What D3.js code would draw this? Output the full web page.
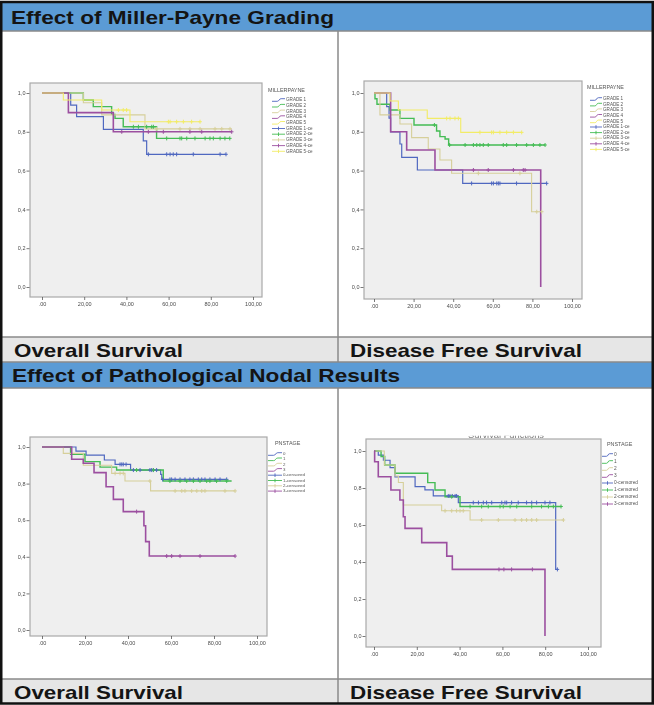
<!DOCTYPE html>
<html><head><meta charset="utf-8">
<script src="https://cdn.jsdelivr.net/npm/d3@7"></script>
<style>
html,body{margin:0;padding:0;background:#fff;}
svg{display:block;font-family:"Liberation Sans",Arial,sans-serif;}
</style>
</head><body>
<svg id="fig" width="654" height="705"></svg>
<script>
// ---------- axis ticks ----------
const xTickValues = [0, 20, 40, 60, 80, 100];
const xTickLabels = [".00", "20,00", "40,00", "60,00", "80,00", "100,00"];
const yTickValues = [0, 0.2, 0.4, 0.6, 0.8, 1.0];
const yTickLabels = ["0,0", "0,2", "0,4", "0,6", "0,8", "1,0"];

// ---------- legend entries ----------
const millerLegendTitle = "MILLERPAYNE";
const millerLegendLabels = ["GRADE 1", "GRADE 2", "GRADE 3", "GRADE 4", "GRADE 5",
  "GRADE 1-ce", "GRADE 2-ce", "GRADE 3-ce", "GRADE 4-ce", "GRADE 5-ce"];
const nodalLegendTitle = "PNSTAGE";
const nodalLegendLabels = ["0", "1", "2", "3", "0-censored", "1-censored", "2-censored", "3-censored"];

// ---------- section / panel titles ----------
const sectionTitles = ["Effect of Miller-Payne Grading", "Effect of Pathological Nodal Results"];
const panelTitles = ["Overall Survival", "Disease Free Survival"];
const hiddenChartTitle = "Survival Functions";

// ---------- Miller-Payne, overall survival: [months, cumulative survival] step starts ----------
const mpOsGrade1 = [[0,1],[13.6,0.938],[16.4,0.878],[29.1,0.813],[48,0.753],[49.6,0.684],[87.2,0.684]];
const mpOsGrade1Cens = [50.4,59.1,60.7,62.2,63.8,71.7,84.4,87.2];
const mpOsGrade2 = [[0,1],[19.6,0.964],[24.3,0.93],[33,0.89],[34.6,0.869],[38.5,0.826],[54.3,0.766],[89,0.766]];
const mpOsGrade2Cens = [43.3,45.7,49.6,52,52.8,59.1,65.4,66.2,68.6,72.5,77.3,79.6,81.2,84.4,86.7,89];
const mpOsGrade3 = [[0,1],[19.6,0.95],[28.3,0.887],[48.8,0.815],[89.9,0.815]];
const mpOsGrade3Cens = [54.3,65.4,70.1,74.9,82,85.2,89.1];
const mpOsGrade4 = [[0,1],[12.5,0.899],[33.8,0.8],[89.9,0.8]];
const mpOsGrade4Cens = [37.8,50.4,57.5,70.1,75.7,89.9];
const mpOsGrade5 = [[0,1],[10.1,0.964],[28.3,0.912],[41.7,0.852],[74.9,0.852]];
const mpOsGrade5Cens = [36.2,38.5,40.1,59.9,60.7,63.8,67,70.9,74.9];

// ---------- Miller-Payne, disease free survival ----------
const mpDfsGrade1 = [[0,1],[6.4,0.93],[7.6,0.87],[8.4,0.8],[13.1,0.737],[14,0.668],[21.9,0.603],[44.8,0.534],[87.2,0.534]];
const mpDfsGrade1Cens = [49.3,59.4,60.3,62,62.8,63.6,72,87.2];
const mpDfsGrade2 = [[0,1],[0.5,0.97],[1.5,0.942],[8.1,0.912],[13.1,0.869],[20.2,0.835],[31.6,0.804],[33.3,0.775],[35.9,0.763],[37.7,0.732],[86.4,0.732]];
const mpDfsGrade2Cens = [30.5,38.2,46,50.2,51.9,53.5,55.2,57.7,65.3,67,72,77.1,80.5,83.8,86.4];
const mpDfsGrade3 = [[0,1],[3,0.887],[13.1,0.84],[19,0.77],[27.4,0.711],[33.3,0.655],[39.2,0.586],[79.6,0.388],[84.7,0.388]];
const mpDfsGrade3Cens = [52.7,73.7,82.2,84.7];
const mpDfsGrade4 = [[0,1],[8.4,0.8],[16.5,0.706],[30.8,0.603],[84.2,0]];
const mpDfsGrade4Cens = [50.2,57.7,70.4,75.4,76.3];
const mpDfsGrade5 = [[0,1],[8.1,0.959],[12.3,0.912],[26.9,0.869],[43.8,0.797],[74.6,0.797]];
const mpDfsGrade5Cens = [36.7,38.4,40.9,42.6,53.5,59.4,60.3,63.6,67,70.4,74.6];

// ---------- Nodal stage, overall survival ----------
const pnOsStage0 = [[0,1],[15.8,0.978],[20.5,0.956],[29,0.929],[34,0.905],[41.2,0.874],[55.2,0.85],[55.7,0.823],[85.9,0.823]];
const pnOsStage0Cens = [36.3,37.1,37.8,39.1,42.5,45.6,50.2,51,51.8,53.3,56.1,59.5,60.3,61.9,64.2,66.5,68.8,70.4,72.7,74.3,75.8,78.1,80.5,82.8,85.9];
const pnOsStage1 = [[0,1],[13.3,0.96],[20,0.92],[27,0.89],[34.7,0.874],[56.4,0.814],[88.2,0.814]];
const pnOsStage1Cens = [44,51.8,59.5,64.2,67.3,70.4,73.5,76.6,78.1,81.2,85.9];
const pnOsStage2 = [[0,1],[9.9,0.965],[19.2,0.9],[32.4,0.856],[38.6,0.814],[50.5,0.76],[89.8,0.76]];
const pnOsStage2Cens = [34,36.3,37.8,50.2,61.9,65,66.5,69.6,72,74.3,75.8,85.1,89.8];
const pnOsStage3 = [[0,1],[13.8,0.933],[19.2,0.911],[24.2,0.86],[29.8,0.783],[33.2,0.714],[37.8,0.647],[47.4,0.57],[48.2,0.483],[49.9,0.404],[89.8,0.404]];
const pnOsStage3Cens = [44,58,60.3,64.2,73.5,89.8];

// ---------- Nodal stage, disease free survival ----------
const pnDfsStage0 = [[0,1],[2,0.978],[4.4,0.95],[7.5,0.91],[9.8,0.86],[19.2,0.807],[23.8,0.79],[27.7,0.757],[39.4,0.721],[84.9,0.36],[85.7,0.36]];
const pnDfsStage0Cens = [34.7,35.5,36.6,37.9,38.6,46.4,48.8,51.1,52.6,55,59.7,61.2,62,64.3,67.4,71.3,73.7,76,79.9,82.2,85.7];
const pnDfsStage1 = [[0,1],[3.3,0.97],[5,0.924],[9.8,0.88],[25.1,0.829],[28.5,0.789],[33.2,0.753],[40.2,0.7],[87.4,0.7]];
const pnDfsStage1Cens = [36.3,44.9,50.3,53.4,58.9,60.4,63.6,66.7,73.7,78.3,81.5,83.8,87.4];
const pnDfsStage2 = [[0,1],[4.8,0.924],[9.8,0.865],[11.4,0.83],[13.7,0.708],[31.6,0.677],[44.9,0.627],[88.5,0.627]];
const pnDfsStage2Cens = [33.2,36.3,38.6,40.2,41.7,50.3,58.1,65.9,69,71.3,73.7,76,88.5];
const pnDfsStage3 = [[0,1],[0.3,0.942],[2,0.861],[7.9,0.789],[12.1,0.735],[13.7,0.645],[14.5,0.582],[22.3,0.505],[34,0.432],[36.6,0.36],[79.9,0]];
const pnDfsStage3Cens = [58.4,60.7,64.3,74];

// ---------- drawing ----------
const groupColors = ["#5068c0", "#44bc54", "#d6cf9a", "#9c50a0", "#f2ec66"];
const groupWidths = [1.2, 1.4, 1.1, 1.6, 1.1];

const svg = d3.select("#fig");
const defs = svg.append("defs");
defs.append("filter").attr("id", "soft").attr("x", "-5%").attr("y", "-5%").attr("width", "110%").attr("height", "110%")
  .append("feGaussianBlur").attr("stdDeviation", 0.45);
defs.append("clipPath").attr("id", "titleClip")
  .append("rect").attr("x", 340).attr("y", 435.8).attr("width", 300).attr("height", 3);

svg.append("rect").attr("width", 654).attr("height", 705).attr("fill", "#fff");

// table bands
const band = (y, h, fill) => svg.append("rect").attr("x", 2).attr("y", y).attr("width", 650).attr("height", h).attr("fill", fill);
band(3, 28, "#5b9bd5");
band(337, 25, "#e6e6e6");
band(362, 26, "#5b9bd5");
band(679, 24, "#e6e6e6");

const rule = (x1, y1, x2, y2) => svg.append("line").attr("x1", x1).attr("y1", y1).attr("x2", x2).attr("y2", y2)
  .attr("stroke", "#8a8a8a").attr("stroke-width", 1.5);
rule(2, 31, 652, 31);
rule(2, 337, 652, 337);
rule(2, 362, 652, 362);
rule(2, 388, 652, 388);
rule(2, 679, 652, 679);
rule(338, 31, 338, 362);
rule(338, 388, 338, 703);

svg.append("rect").attr("x", 1.25).attr("y", 2).attr("width", 651.5).attr("height", 701.5)
  .attr("fill", "none").attr("stroke", "#111").attr("stroke-width", 2.5);

const heading = (txt, x, y, len) => svg.append("text").attr("x", x).attr("y", y)
  .attr("font-size", 19).attr("font-weight", "bold").attr("fill", "#141414")
  .attr("textLength", len).attr("lengthAdjust", "spacingAndGlyphs").text(txt);
heading(sectionTitles[0], 11, 24, 323);
heading(panelTitles[0], 14, 357, 169);
heading(panelTitles[1], 350, 357, 232);
heading(sectionTitles[1], 12, 382, 388);
heading(panelTitles[0], 14, 699, 169);
heading(panelTitles[1], 350, 699, 232);

function stepValue(data, t) {
  const i = d3.bisector(d => d[0]).right(data, t) - 1;
  return data[Math.max(0, i)][1];
}

function drawChart(cfg) {
  const g = svg.append("g").attr("filter", "url(#soft)");
  const [bx0, by0, bx1, by1] = cfg.box;
  const x = d3.scaleLinear().domain([0, 100]).range(cfg.xRange);
  const y = d3.scaleLinear().domain([0, 1]).range(cfg.yRange);

  g.append("rect").attr("x", bx0).attr("y", by0).attr("width", bx1 - bx0).attr("height", by1 - by0)
    .attr("fill", "#efefef").attr("stroke", "#a9a9a9").attr("stroke-width", 1.2);

  const xa = g.append("g").attr("transform", `translate(0,${by1})`)
    .call(d3.axisBottom(x).tickValues(xTickValues).tickFormat((d, i) => xTickLabels[i]).tickSize(3).tickPadding(2));
  const ya = g.append("g").attr("transform", `translate(${bx0 - 0.5},0)`)
    .call(d3.axisLeft(y).tickValues(yTickValues).tickFormat((d, i) => yTickLabels[i]).tickSize(3).tickPadding(1));
  [xa, ya].forEach(a => {
    a.select(".domain").remove();
    a.selectAll("line").attr("stroke", "#555").attr("stroke-width", 0.8);
    a.selectAll("text").attr("font-size", 5.5).attr("fill", "#4a4a4a").attr("font-family", "Liberation Sans, Arial, sans-serif");
  });

  const line = d3.line().x(d => x(d[0])).y(d => y(d[1])).curve(d3.curveStepAfter);
  cfg.series.forEach((s, k) => {
    g.append("path").attr("d", line(s.curve)).attr("fill", "none")
      .attr("stroke", groupColors[k]).attr("stroke-width", groupWidths[k]);
  });
  cfg.series.forEach((s, k) => {
    g.append("g").selectAll("path").data(s.cens).join("path")
      .attr("d", t => {
        const px = x(t), py = y(stepValue(s.curve, t));
        return `M${px - 1.8},${py}H${px + 1.8}M${px},${py - 2}V${py + 2}`;
      })
      .attr("stroke", groupColors[k]).attr("stroke-width", 1).attr("fill", "none");
  });

  // legend
  const L = cfg.legend;
  g.append("text").attr("x", L.titleX).attr("y", L.titleY).attr("font-size", 5.4).attr("fill", "#555")
    .attr("dominant-baseline", "middle").text(cfg.legendTitle);
  const n = cfg.series.length;
  cfg.legendLabels.forEach((lab, i) => {
    const yy = L.firstY + i * L.dy;
    const k = i % n;
    const w = L.sx1 - L.sx0;
    if (i < n) {
      g.append("path")
        .attr("d", `M${L.sx0},${yy + 1.3}H${L.sx0 + w * 0.4}Q${L.sx0 + w * 0.5},${yy + 1.3} ${L.sx0 + w * 0.55},${yy}T${L.sx0 + w * 0.7},${yy - 1.3}H${L.sx1}`)
        .attr("fill", "none").attr("stroke", groupColors[k]).attr("stroke-width", 0.9);
    } else {
      const cx = (L.sx0 + L.sx1) / 2;
      g.append("path")
        .attr("d", `M${L.sx0},${yy}H${L.sx1}M${cx},${yy - 1.8}V${yy + 1.8}`)
        .attr("fill", "none").attr("stroke", groupColors[k]).attr("stroke-width", 0.9);
    }
    g.append("text").attr("x", L.textX).attr("y", yy).attr("font-size", L.fs).attr("fill", "#555")
      .attr("dominant-baseline", "middle").text(lab);
  });
  return g;
}

drawChart({
  box: [30, 83, 262, 297], xRange: [42, 253], yRange: [287, 93],
  series: [
    { curve: mpOsGrade1, cens: mpOsGrade1Cens },
    { curve: mpOsGrade2, cens: mpOsGrade2Cens },
    { curve: mpOsGrade3, cens: mpOsGrade3Cens },
    { curve: mpOsGrade4, cens: mpOsGrade4Cens },
    { curve: mpOsGrade5, cens: mpOsGrade5Cens }
  ],
  legendTitle: millerLegendTitle, legendLabels: millerLegendLabels,
  legend: { titleX: 268, titleY: 91, firstY: 100, dy: 5.7, sx0: 272, sx1: 285, textX: 286, fs: 4.6 }
});

drawChart({
  box: [364, 81, 582, 299], xRange: [374, 572], yRange: [287, 93],
  series: [
    { curve: mpDfsGrade1, cens: mpDfsGrade1Cens },
    { curve: mpDfsGrade2, cens: mpDfsGrade2Cens },
    { curve: mpDfsGrade3, cens: mpDfsGrade3Cens },
    { curve: mpDfsGrade4, cens: mpDfsGrade4Cens },
    { curve: mpDfsGrade5, cens: mpDfsGrade5Cens }
  ],
  legendTitle: millerLegendTitle, legendLabels: millerLegendLabels,
  legend: { titleX: 587, titleY: 88, firstY: 99, dy: 5.6, sx0: 590, sx1: 602, textX: 603, fs: 4.6 }
});

drawChart({
  box: [30, 437, 267, 636], xRange: [42, 257], yRange: [630, 447],
  series: [
    { curve: pnOsStage0, cens: pnOsStage0Cens },
    { curve: pnOsStage1, cens: pnOsStage1Cens },
    { curve: pnOsStage2, cens: pnOsStage2Cens },
    { curve: pnOsStage3, cens: pnOsStage3Cens }
  ],
  legendTitle: nodalLegendTitle, legendLabels: nodalLegendLabels,
  legend: { titleX: 275, titleY: 444, firstY: 454, dy: 5.3, sx0: 268, sx1: 282, textX: 283, fs: 4.4 }
});

const gD = drawChart({
  box: [366, 439, 601, 647], xRange: [374, 588], yRange: [636, 451],
  series: [
    { curve: pnDfsStage0, cens: pnDfsStage0Cens },
    { curve: pnDfsStage1, cens: pnDfsStage1Cens },
    { curve: pnDfsStage2, cens: pnDfsStage2Cens },
    { curve: pnDfsStage3, cens: pnDfsStage3Cens }
  ],
  legendTitle: nodalLegendTitle, legendLabels: nodalLegendLabels,
  legend: { titleX: 607, titleY: 445, firstY: 455, dy: 7, sx0: 602, sx1: 613, textX: 614, fs: 4.8 }
});
// chart caption cropped at the top edge of the panel
gD.append("text").attr("x", 468).attr("y", 438).attr("font-size", 8.5).attr("fill", "#7a7a7a")
  .attr("textLength", 76).attr("lengthAdjust", "spacingAndGlyphs")
  .attr("clip-path", "url(#titleClip)").text(hiddenChartTitle);
</script>
</body></html>
